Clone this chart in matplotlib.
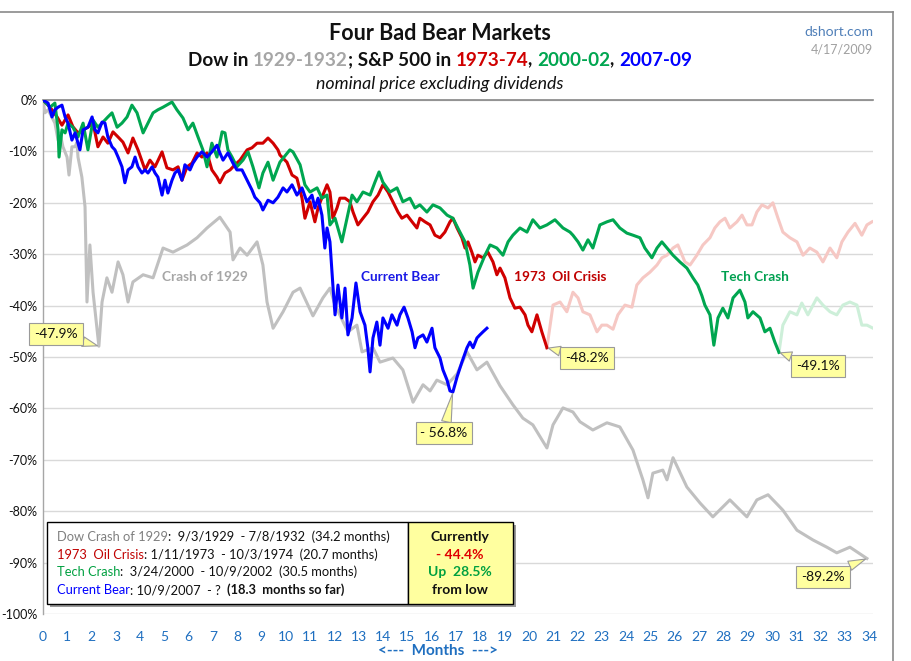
import matplotlib
matplotlib.use("Agg")
import matplotlib.pyplot as plt
from matplotlib.offsetbox import TextArea, HPacker, AnnotationBbox
from matplotlib.patches import Rectangle
from matplotlib.lines import Line2D

plt.rcParams['font.family'] = ['Lato', 'DejaVu Sans']

# ---------------- data (months from start, % change) ----------------
dow_m = [0, 0.08, 0.21, 0.49, 0.62, 0.70, 0.82, 0.99, 1.07, 1.19, 1.32, 1.40, 1.44, 1.60, 1.73, 1.81, 1.93,
         2.06, 2.30, 2.43, 2.63, 2.84, 3.09, 3.29, 3.50, 3.70, 4.12, 4.53, 4.94, 5.35, 5.93, 6.34, 6.75,
         7.28, 7.70, 7.82, 8.11, 8.40, 8.81, 9.05, 9.22, 9.47, 9.88, 10.29, 10.58, 11.11, 11.52, 11.81,
         12.02, 12.55, 12.92, 13.13, 13.58, 13.87, 14.40, 14.81, 15.23, 15.64, 15.93, 16.21, 16.63, 17.04,
         17.45, 17.86, 18.27, 18.81, 19.34, 19.75, 20.16, 20.74, 20.99, 21.40, 21.81, 22.10, 22.63, 23.21,
         23.74, 24.28, 24.69, 24.90, 25.10, 25.51, 25.68, 25.93, 26.50, 27.04, 27.57, 28.27, 28.97, 29.38,
         29.84, 30.45, 31.03, 31.69, 32.26, 32.67, 33.21, 33.91]
dow_v = [0, -2.5, -1.9, -4.5, -7.8, -6.4, -9.1, -11.1, -14.6, -9.1, -9.1, -8.2, -11.1, -15.0, -20.8, -39.3, -28.2,
         -37.4, -47.9, -39.3, -34.6, -37.4, -31.5, -34.0, -39.3, -35.4, -34.0, -34.6, -28.8, -29.6, -28.2, -26.8, -24.9,
         -22.8, -25.7, -31.1, -28.8, -30.2, -27.6, -32.1, -39.3, -44.4, -41.2, -37.4, -36.6, -42.0, -38.5, -36.6,
         -39.9, -45.1, -43.8, -49.0, -48.2, -51.0, -50.2, -52.5, -58.8, -55.4, -56.6, -54.5, -55.4, -53.3,
         -49.0, -52.5, -51.0, -55.6, -59.3, -61.9, -63.2, -67.7, -63.2, -59.9, -60.7, -62.6, -64.2, -62.8,
         -63.6, -68.1, -73.9, -77.4, -72.6, -72.0, -73.9, -69.6, -75.3, -78.4, -81.1, -77.8, -81.1, -77.8,
         -76.8, -79.8, -83.7, -85.6, -87.0, -88.1, -87.0, -89.2]

oil_m = [0, 0.29, 0.58, 0.78, 1.03, 1.23, 1.44, 1.65, 1.85, 2.06, 2.26, 2.47, 2.67, 2.88, 3.09, 3.29, 3.50,
         3.70, 3.91, 4.20, 4.40, 4.61, 4.90, 5.10, 5.35, 5.56, 5.72, 5.93, 6.13, 6.34, 6.54, 6.75, 6.95, 7.16,
         7.28, 7.49, 7.70, 7.90, 8.11, 8.40, 8.60, 8.81, 9.05, 9.26, 9.47, 9.67, 9.75, 10.04, 10.25, 10.45,
         10.66, 10.78, 10.99, 11.19, 11.32, 11.52, 11.69, 11.81, 11.93, 12.10, 12.22, 12.43, 12.63, 12.76,
         12.96, 13.17, 13.37, 13.58, 13.79, 13.99, 14.20, 14.40, 14.61, 14.77, 14.98, 15.19, 15.39, 15.51,
         15.72, 15.93, 16.13, 16.34, 16.54, 16.75, 16.87, 17.04, 17.24, 17.37, 17.49, 17.65, 17.78, 17.90,
         18.11, 18.31, 18.52, 18.68, 18.81, 19.01, 19.22, 19.42, 19.63, 19.84, 19.96, 20.12, 20.33, 20.53, 20.74]
oil_v = [0, -1.4, -3.3, -4.9, -2.9, -5.2, -6.4, -5.8, -5.3, -4.5, -9.1, -7.2, -8.4, -6.2, -7.2, -8.2, -10.3,
         -7.4, -9.7, -13.6, -11.7, -13.0, -10.1, -13.2, -13.6, -13.0, -15.6, -13.0, -12.3, -10.3, -11.1, -10.3, -13.6, -15.0,
         -16.1, -14.2, -13.6, -12.6, -11.7, -9.7, -9.3, -8.4, -8.4, -7.4, -8.4, -9.7, -10.7, -12.1, -14.6, -15.2,
         -19.1, -23.0, -19.8, -23.7, -21.0, -18.5, -16.5, -17.9, -23.0, -21.0, -19.1, -19.1, -19.8, -21.8,
         -24.3, -23.0, -21.8, -19.8, -18.5, -16.5, -17.9, -19.8, -21.8, -23.0, -22.4, -23.7, -24.9, -23.0,
         -23.7, -24.3, -26.3, -26.8, -25.7, -23.7, -23.0, -24.9, -26.8, -28.8, -27.6, -29.6, -31.5, -30.2,
         -30.7, -29.6, -31.5, -34.0, -32.7, -34.6, -38.5, -40.5, -40.3, -41.8, -43.8, -45.1, -41.8, -45.1, -48.2]

oil_after_m = [20.74, 20.99, 21.28, 21.56, 21.81, 22.02, 22.22, 22.51, 22.80, 23.00, 23.21, 23.46, 23.66,
               23.95, 24.24, 24.44, 24.69, 24.98, 25.27, 25.47, 25.68, 25.93, 26.13, 26.42, 26.63, 26.91,
               27.16, 27.45, 27.65, 27.86, 28.07, 28.27, 28.56, 28.77, 28.97, 29.18, 29.38, 29.59, 29.84,
               30.04, 30.25, 30.45, 30.74, 31.03, 31.28, 31.56, 31.85, 32.10, 32.39, 32.67, 32.88, 33.13,
               33.42, 33.70, 33.91, 34.12]
oil_after_v = [-48.2, -39.9, -39.3, -41.2, -37.4, -38.5, -41.2, -41.8, -45.1, -43.8, -43.8, -44.6, -41.8,
               -39.9, -40.3, -36.0, -34.6, -33.5, -32.1, -30.7, -30.2, -28.8, -28.2, -31.5, -32.1, -30.2,
               -28.2, -26.8, -24.9, -23.7, -23.0, -24.9, -23.7, -22.4, -24.3, -24.3, -21.8, -20.4, -21.0,
               -20.0, -23.0, -25.7, -26.8, -27.6, -30.2, -28.8, -29.6, -31.5, -28.8, -30.7, -27.6, -25.7,
               -24.0, -26.3, -24.3, -23.7]

tech_m = [0, 0.29, 0.49, 0.62, 0.66, 0.78, 0.91, 1.03, 1.23, 1.44, 1.65, 1.85, 2.06, 2.26, 2.47, 2.67, 2.84,
          3.05, 3.25, 3.46, 3.66, 3.87, 4.12, 4.32, 4.53, 4.73, 4.94, 5.31, 5.51, 5.76, 5.97, 6.17, 6.38, 6.58,
          6.75, 6.95, 7.16, 7.37, 7.49, 7.61, 7.78, 7.98, 8.23, 8.44, 8.64, 8.89, 9.05, 9.26, 9.47, 9.75,
          10.16, 10.29, 10.58, 10.78, 10.99, 11.28, 11.48, 11.69, 11.81, 12.02, 12.30, 12.51, 12.72, 12.92,
          13.17, 13.46, 13.66, 13.83, 13.99, 14.28, 14.57, 14.81, 15.10, 15.31, 15.51, 15.80, 16.05, 16.34,
          16.63, 16.87, 17.16, 17.37, 17.57, 17.70, 17.90, 18.19, 18.40, 18.68, 18.93, 19.14, 19.34, 19.63,
          19.92, 20.16, 20.45, 20.74, 21.07, 21.40, 21.69, 21.81, 22.02, 22.22, 22.43, 22.63, 22.92, 23.21,
          23.46, 23.74, 24.03, 24.28, 24.57, 24.77, 25.06, 25.27, 25.47, 25.68, 25.93, 26.21, 26.50, 26.75,
          26.95, 27.12, 27.24, 27.45, 27.61, 27.78, 27.98, 28.19, 28.40, 28.68, 28.89, 29.01, 29.22, 29.51,
          29.71, 29.92, 30.12, 30.29]
tech_v = [0, -1.4, -0.6, -5.8, -11.1, -5.8, -6.4, -4.5, -5.3, -7.2, -4.5, -9.7, -3.9, -5.3, -4.3, -3.3, -2.5,
          -5.3, -4.5, -3.3, -1.0, -2.5, -6.4, -4.5, -2.5, -1.9, -1.4, -0.4, -1.9, -3.5, -5.8, -4.5, -7.2, -9.7,
          -13.0, -8.4, -11.1, -6.2, -6.4, -9.7, -11.1, -13.0, -11.7, -10.1, -13.0, -17.1, -14.2, -12.1, -15.6, -12.1,
          -9.7, -10.1, -12.6, -16.5, -17.9, -17.1, -19.1, -18.5, -24.3, -23.0, -27.6, -23.0, -18.5, -19.8,
          -17.9, -18.5, -16.0, -14.0, -16.0, -17.9, -17.1, -19.8, -19.1, -21.0, -20.4, -21.8, -20.4, -21.0,
          -22.4, -23.0, -25.7, -27.6, -32.1, -36.6, -33.5, -30.2, -28.2, -28.8, -30.2, -27.6, -26.3, -24.9,
          -25.7, -23.3, -24.9, -24.3, -23.3, -24.9, -25.7, -26.3, -27.6, -29.2, -27.2, -28.8, -24.3, -23.7,
          -23.3, -24.9, -25.9, -26.3, -26.8, -28.8, -30.7, -28.8, -27.6, -28.8, -30.2, -31.5, -32.7, -34.6,
          -36.0, -38.1, -39.9, -41.8, -47.7, -42.4, -40.5, -42.4, -38.5, -37.0, -39.3, -42.4, -41.2, -42.4,
          -45.1, -44.4, -47.1, -49.1]

tech_after_m = [30.29, 30.45, 30.74, 31.03, 31.23, 31.48, 31.85, 32.10, 32.39, 32.67, 32.92, 33.21, 33.50,
                33.70, 33.91, 34.16]
tech_after_v = [-49.1, -43.8, -41.2, -41.8, -39.5, -41.8, -38.5, -39.9, -41.2, -41.8, -39.9, -39.3, -39.9,
                -43.8, -43.8, -44.4]

cur_m = [0, 0.21, 0.37, 0.49, 0.62, 0.78, 0.91, 1.03, 1.19, 1.32, 1.52, 1.65, 1.85, 2.02, 2.14, 2.26, 2.43,
         2.55, 2.67, 2.84, 2.96, 3.09, 3.25, 3.37, 3.50, 3.66, 3.79, 3.91, 4.07, 4.20, 4.32, 4.49, 4.61, 4.73,
         4.90, 5.02, 5.14, 5.31, 5.43, 5.56, 5.72, 5.84, 6.05, 6.17, 6.34, 6.54, 6.75, 6.95, 7.16, 7.28, 7.41,
         7.61, 7.82, 7.98, 8.19, 8.40, 8.60, 8.72, 8.93, 9.05, 9.26, 9.47, 9.67, 9.88, 10.04, 10.25, 10.45,
         10.66, 10.86, 11.07, 11.19, 11.32, 11.48, 11.60, 11.69, 11.81, 11.93, 12.02, 12.14, 12.30, 12.43,
         12.55, 12.72, 12.88, 13.05, 13.25, 13.37, 13.46, 13.58, 13.74, 13.87, 13.99, 14.20, 14.36, 14.57,
         14.69, 14.86, 15.02, 15.19, 15.31, 15.43, 15.64, 15.80, 16.01, 16.13, 16.34, 16.46, 16.63, 16.75,
         16.87, 17.04, 17.24, 17.45, 17.57, 17.70, 17.86, 17.98, 18.11, 18.27]
cur_v = [0, -0.6, -3.3, -1.9, -1.4, -1.0, -3.3, -4.5, -7.8, -6.4, -9.7, -5.8, -5.3, -3.3, -5.8, -6.4, -4.3,
         -4.5, -7.2, -9.1, -9.7, -11.1, -13.0, -16.1, -13.6, -13.0, -11.1, -13.0, -14.2, -13.6, -14.2, -13.0, -14.2, -15.0,
         -18.5, -15.6, -18.1, -15.6, -14.2, -13.6, -15.6, -12.6, -13.6, -12.3, -11.1, -10.1, -11.1, -10.1, -8.8, -10.3, -11.7,
         -10.3, -12.3, -13.6, -13.6, -15.6, -17.5, -18.9, -20.0, -21.4, -19.5, -20.0, -18.9, -17.1, -17.9, -16.5, -18.5,
         -17.1, -19.8, -18.5, -21.0, -19.1, -22.4, -28.8, -24.9, -27.6, -36.0, -41.8, -36.0, -42.4, -36.6,
         -45.7, -42.4, -35.6, -41.2, -43.8, -48.2, -52.9, -46.3, -43.2, -47.7, -42.4, -44.4, -41.8, -43.8,
         -41.8, -40.3, -42.4, -45.1, -48.2, -46.3, -45.7, -47.1, -44.4, -48.2, -50.2, -52.5, -54.5, -56.6,
         -56.8, -53.9, -51.0, -48.2, -47.1, -48.2, -46.3, -45.7, -45.1, -44.4]

x_ticks = list(range(0, 35))
y_ticks = [0, -10, -20, -30, -40, -50, -60, -70, -80, -90, -100]

# ---------------- figure ----------------
W, H = 912, 661
fig = plt.figure(figsize=(W / 100, H / 100), dpi=100)


def fx(x):
    return x / W


def fy(y):
    return 1 - y / H


ax = fig.add_axes([fx(43), fy(614), fx(873) - fx(43), fy(100) - fy(614)])
ax.set_xlim(0, 34.16)
ax.set_ylim(-100, 0)

GRAY = '#C0C0C0'
RED = '#D00000'
GREEN = '#00A650'
BLUE = '#0000FF'
LW = 2.2

ax.plot(oil_after_m, oil_after_v, color='#F6C8C4', lw=LW, zorder=2, solid_joinstyle='round')
ax.plot(tech_after_m, tech_after_v, color='#CDEFD9', lw=LW, zorder=2, solid_joinstyle='round')
ax.plot(dow_m, dow_v, color=GRAY, lw=LW, zorder=3, solid_joinstyle='round')
ax.plot(oil_m, oil_v, color=RED, lw=LW, zorder=4, solid_joinstyle='round')
ax.plot(tech_m, tech_v, color=GREEN, lw=LW, zorder=5, solid_joinstyle='round')
ax.plot(cur_m, cur_v, color=BLUE, lw=LW, zorder=6, solid_joinstyle='round')

ax.set_xticks(x_ticks)
ax.set_xticklabels([str(t) for t in x_ticks])
ax.set_yticks(y_ticks)
ax.set_yticklabels([f'{t}%' for t in y_ticks])
ax.tick_params(axis='both', length=0)
ax.tick_params(axis='x', colors='#1F6FC0', labelsize=10, pad=12)
ax.tick_params(axis='y', colors='#111111', labelsize=9, pad=4)
ax.grid(axis='y', color='#D9D9D9', lw=1.0, zorder=0)
ax.set_axisbelow(True)
for s in ['right', 'bottom']:
    ax.spines[s].set_visible(False)
ax.spines['top'].set_color('#868686')
ax.spines['top'].set_linewidth(1.2)
ax.spines['left'].set_color('#A6A6A6')
ax.spines['left'].set_linewidth(1.0)

# series labels
lab_kw = dict(fontsize=9.8, fontweight='bold', ha='center', va='center', zorder=7)
ax.text(6.67, -34.4, 'Crash of 1929', color='#A6A6A6', **lab_kw)
ax.text(14.7, -34.4, 'Current Bear', color='#1A1AE6', **lab_kw)
ax.text(21.3, -34.4, '1973  Oil Crisis', color='#C00000', **lab_kw)
ax.text(29.3, -34.4, 'Tech Crash', color='#00A050', **lab_kw)

# callouts
def callout(txt, xy, bx, by):
    ax.annotate(txt, xy=xy, xycoords='data', xytext=(bx, H - by), textcoords='figure pixels',
                ha='center', va='center', fontsize=10, color='#111111', zorder=9,
                bbox=dict(boxstyle='square,pad=0.35', fc='#FFFF9F', ec='#9A9A9A', lw=0.8),
                arrowprops=dict(arrowstyle='wedge,tail_width=0.7,shrink_factor=0.5', fc='#FFFF9F',
                                ec='#9A9A9A', lw=0.8, shrinkA=0, shrinkB=1))


callout('-47.9%', (2.30, -47.9), 56, 334)
callout('- 56.8%', (16.87, -56.8), 444, 433)
callout('-48.2%', (20.74, -48.2), 587, 358)
callout('-49.1%', (30.29, -49.1), 818, 366)
callout('-89.2%', (33.91, -89.2), 823, 577)

# ---------------- titles ----------------
fig.text(fx(440), fy(33), 'Four Bad Bear Markets', ha='center', va='center', fontsize=15.5,
         fontweight='bold', color='#111111')

def packline(parts, size, x, y, align=(0.5, 0.5), weight='bold', style='normal'):
    children = []
    for p in parts:
        t, c = p[0], p[1]
        w = p[2] if len(p) > 2 else weight
        children.append(TextArea(t, textprops=dict(color=c, fontsize=size, fontweight=w, fontstyle=style)))
    pk = HPacker(children=children, align='baseline', pad=0, sep=0)
    ab = AnnotationBbox(pk, (fx(x), fy(y)), xycoords='figure fraction', frameon=False,
                        box_alignment=align, pad=0, zorder=12)
    fig.add_artist(ab)


packline([('Dow in ', '#111111'), ('1929-1932', '#A6A6A6'), ('; S&P 500 in ', '#111111'),
          ('1973-74', '#D00000'), (', ', '#111111'), ('2000-02', '#00A650'), (', ', '#111111'),
          ('2007-09', '#0000FF')], 13.6, 440, 60)
fig.text(fx(440), fy(84), 'nominal price excluding dividends', ha='center', va='center', fontsize=12.8,
         fontstyle='italic', color='#111111')
fig.text(fx(873), fy(32), 'dshort.com', ha='right', va='center', fontsize=10, color='#4F7FB8')
fig.text(fx(873), fy(49), '4/17/2009', ha='right', va='center', fontsize=9, color='#A0A0A0')
fig.text(fx(438), fy(651), '<---  Months  --->', ha='center', va='center', fontsize=11,
         fontweight='bold', color='#1F6FC0')

# ---------------- legend box ----------------
fig.add_artist(Rectangle((fx(50), fy(607)), fx(516) - fx(50), fy(525) - fy(607),
                         transform=fig.transFigure, fc='#9A9A9A', ec='none', zorder=10))
fig.add_artist(Rectangle((fx(47), fy(604)), fx(408) - fx(47), fy(522) - fy(604),
                         transform=fig.transFigure, fc='white', ec='black', lw=1.0, zorder=11))
fig.add_artist(Rectangle((fx(408), fy(604)), fx(513) - fx(408), fy(522) - fy(604),
                         transform=fig.transFigure, fc='#FFFF9F', ec='black', lw=1.0, zorder=11))

LS = 9.3
packline([('Dow Crash of 1929', '#7F7F7F', 'normal'),
          (':  9/3/1929  - 7/8/1932  (34.2 months)', '#111111', 'normal')], LS, 57, 537, align=(0, 0.5))
packline([('1973  Oil Crisis', '#C00000', 'normal'),
          (': 1/11/1973  - 10/3/1974  (20.7 months)', '#111111', 'normal')], LS, 57, 555, align=(0, 0.5))
packline([('Tech Crash', '#00A040', 'normal'),
          (':  3/24/2000  - 10/9/2002  (30.5 months)', '#111111', 'normal')], LS, 57, 572, align=(0, 0.5))
packline([('Current Bear', '#0000FF', 'normal'), (': 10/9/2007  - ?  ', '#111111', 'normal'),
          ('(18.3  months so far)', '#111111', 'bold')], LS, 57, 590, align=(0, 0.5))

rk = dict(ha='center', va='center', fontsize=10, fontweight='bold', zorder=12)
fig.text(fx(460), fy(537), 'Currently', color='#111111', **rk)
fig.text(fx(460), fy(555), '- 44.4%', color='#E00000', **rk)
fig.text(fx(460), fy(572), 'Up  28.5%', color='#00A040', **rk)
fig.text(fx(460), fy(590), 'from low', color='#111111', **rk)

# outer frame
fig.add_artist(Line2D([0, fx(893)], [fy(12), fy(12)], transform=fig.transFigure, color='#8A8A8A', lw=1.2))
fig.add_artist(Line2D([fx(893), fx(893)], [fy(12), 0], transform=fig.transFigure, color='#8A8A8A', lw=1.2))

fig.savefig('out.png', dpi=100)
